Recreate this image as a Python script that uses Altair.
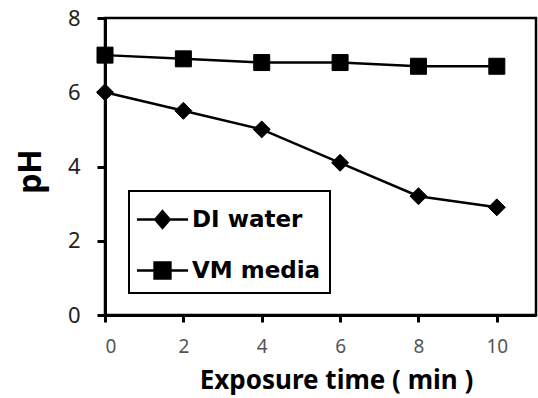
import altair as alt
import pandas as pd

# ---- data ----
time_min = [0, 2, 4, 6, 8, 10]
di_water = [6.0, 5.5, 5.0, 4.1, 3.2, 2.9]
vm_media = [7.0, 6.9, 6.8, 6.8, 6.7, 6.7]
series_names = ["DI water", "VM media"]
x_ticks = [0, 2, 4, 6, 8, 10]
y_ticks = [0, 2, 4, 6, 8]

df = pd.DataFrame({
    "time": time_min + time_min,
    "pH": di_water + vm_media,
    "series": [series_names[0]] * len(time_min) + [series_names[1]] * len(time_min),
})

FONT = "Noto Sans"
LEG_FONT = "DejaVu Sans"
DIAMOND = "M0,-1.06L1.06,0L0,1.06L-1.06,0Z"
LEG_DI = "M-1.42,0H1.42M0,-0.46L0.4,0L0,0.46L-0.4,0Z"
LEG_VM = "M-1.42,0H1.42M-0.44,-0.44H0.44V0.44H-0.44Z"

x = alt.X(
    "time:Q",
    scale=alt.Scale(domain=[0, 11], nice=False, zero=False),
    axis=alt.Axis(
        values=x_ticks, title="Exposure time ( min )", grid=False,
        domainColor="black", domainWidth=3, tickColor="black", tickWidth=3, tickSize=7,
        labelFont=FONT, labelFontSize=19, labelColor="#555555", labelPadding=15,
        titleFont=FONT, titleFontSize=26, titleFontWeight="bold", titleColor="black",
        titleX=231, titleY=73, titleBaseline="alphabetic", titleAlign="center",
    ),
)
y = alt.Y(
    "pH:Q",
    scale=alt.Scale(domain=[0, 8], nice=False),
    axis=alt.Axis(
        values=y_ticks, title="pH", grid=False,
        domainColor="black", domainWidth=3, tickColor="black", tickWidth=3, tickSize=8,
        labelFont=FONT, labelFontSize=22, labelColor="#222222", labelPadding=17,
        titleFont=FONT, titleFontSize=32, titleFontWeight="bold", titleColor="black",
        titleX=-65, titleY=153, titleBaseline="alphabetic", titleAlign="center",
    ),
)

lines = alt.Chart(df).mark_line(color="black", strokeWidth=2.5).encode(
    x=x, y=y, detail="series:N"
)

points = alt.Chart(df).mark_point(
    filled=True, color="black", stroke="black", strokeWidth=1, size=256, opacity=1
).encode(
    x=x, y=y,
    shape=alt.Shape("series:N",
                    scale=alt.Scale(domain=series_names, range=[DIAMOND, "square"]),
                    legend=None),
)

legend_layer = alt.Chart(df).transform_filter("datum.pH < 0").mark_point(
    filled=True, color="black", fill="black", stroke="black", strokeWidth=2.5
).encode(
    x=x, y=y,
    shape=alt.Shape("series:N",
                    scale=alt.Scale(domain=series_names, range=[LEG_DI, LEG_VM]),
                    legend=alt.Legend(
                        title=None, orient="none", legendX=24, legendY=173,
                        padding=9, strokeColor="black",
                        symbolSize=1296, symbolStrokeWidth=2.5,
                        symbolOpacity=1, symbolOffset=5,
                        labelOffset=10, rowPadding=18,
                        labelFont=LEG_FONT, labelFontSize=23, labelFontWeight="bold",
                        labelColor="black", labelLimit=400,
                    )),
)

chart = (
    alt.layer(lines, points, legend_layer)
    .resolve_scale(shape="independent")
    .properties(
        width=431, height=297,
        padding={"left": 105, "top": 18, "right": 2, "bottom": 83},
        autosize=alt.AutoSizeParams(type="none"),
        background="white",
    )
    .configure_view(stroke="black", strokeWidth=2.5)
    .configure_legend(strokeWidth=2)
)

chart.save("out.html", embed_options={"renderer": "svg", "actions": False})
